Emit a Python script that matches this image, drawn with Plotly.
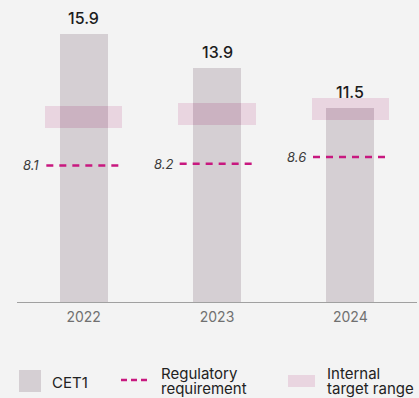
import plotly.graph_objects as go

# Capital ratios by year (%)
years = ["2022", "2023", "2024"]
cet1 = [15.9, 13.9, 11.5]
regulatory = [8.1, 8.2, 8.6]
target_low = [10.3, 10.5, 10.8]
target_high = [11.6, 11.8, 12.1]

BG = "#f3f3f3"
BAR = "#d5cfd3"
TARGET = "#e9d5e0"
OVERLAP = "#cbb2c1"
REG = "#c8187f"
FONT = "Inter"

xs = list(range(len(years)))
BAR_W = 0.36
BAND_W = 0.58
LINE_HALF = 0.28

# plot area in pixels (for placing the legend below it)
W, H = 419, 398
ML, MR, MT, MB = 17, 2, 7, 96
PW, PH = W - ML - MR, H - MT - MB


def px(x):
    return (x - ML) / PW


def py(y):
    return (H - MB - y) / PH


fig = go.Figure()

# internal target range band
fig.add_trace(go.Bar(
    x=xs, y=[h - l for l, h in zip(target_low, target_high)], base=target_low,
    width=BAND_W, marker=dict(color=TARGET, line=dict(width=0)),
    hoverinfo="skip", showlegend=False,
))

# CET1 bars
fig.add_trace(go.Bar(
    x=xs, y=cet1, width=BAR_W,
    marker=dict(color=BAR, line=dict(width=0)),
    showlegend=False,
))

# part of the band that lies over the bar (multiplied tint)
fig.add_trace(go.Bar(
    x=xs,
    y=[max(0, min(h, c) - l) for c, l, h in zip(cet1, target_low, target_high)],
    base=target_low, width=BAR_W,
    marker=dict(color=OVERLAP, line=dict(width=0)),
    hoverinfo="skip", showlegend=False,
))

# regulatory requirement dashed lines
for i, r in zip(xs, regulatory):
    fig.add_trace(go.Scatter(
        x=[i - LINE_HALF, i + LINE_HALF], y=[r, r], mode="lines",
        line=dict(color=REG, width=2.6, dash="7px,6px"),
        showlegend=False,
    ))

annotations = []
for i, c in zip(xs, cet1):
    annotations.append(dict(
        x=i, y=c, xref="x", yref="y", text=f"{c:.1f}", showarrow=False,
        yanchor="bottom", yshift=4,
        font=dict(family=FONT, size=16, color="#1c1c1c", weight=500),
    ))
for i, r in zip(xs, regulatory):
    annotations.append(dict(
        x=i - LINE_HALF, y=r, xref="x", yref="y", text=f"{r:.1f}",
        showarrow=False, xanchor="right", xshift=-5,
        font=dict(family=FONT, size=13, color="#3a3a3a", style="italic"),
    ))

# legend
leg_font = dict(family=FONT, size=15, color="#222222")
legend_texts = [
    (51, 382, "CET1"),
    (160, 373, "Regulatory"),
    (160, 388, "requirement"),
    (326, 373, "Internal"),
    (326, 388, "target range"),
]
for x, y, t in legend_texts:
    annotations.append(dict(
        x=px(x), y=py(y), xref="paper", yref="paper", text=t,
        showarrow=False, xanchor="left", yanchor="middle", font=leg_font,
        borderpad=0,
    ))

shapes = [
    dict(type="rect", xref="paper", yref="paper",
         x0=px(19), x1=px(41), y0=py(392), y1=py(370),
         fillcolor=BAR, line=dict(width=0)),
    dict(type="line", xref="paper", yref="paper",
         x0=px(121), x1=px(147), y0=py(380), y1=py(380),
         line=dict(color=REG, width=2.6, dash="6px,4px")),
    dict(type="rect", xref="paper", yref="paper",
         x0=px(288), x1=px(315), y0=py(387), y1=py(375),
         fillcolor=TARGET, line=dict(width=0)),
]

fig.update_layout(
    width=W, height=H,
    margin=dict(l=ML, r=MR, t=MT, b=MB, pad=0),
    paper_bgcolor=BG, plot_bgcolor=BG,
    barmode="overlay", bargap=0,
    showlegend=False,
    annotations=annotations, shapes=shapes,
    font=dict(family=FONT),
    xaxis=dict(
        range=[-0.5, 2.5], tickvals=xs, ticktext=years,
        showgrid=False, zeroline=False, showline=True,
        linecolor="#a0a0a0", linewidth=1, ticks="",
        ticklabelstandoff=2,
        tickfont=dict(family=FONT, size=14, color="#707070"),
        fixedrange=True,
    ),
    yaxis=dict(
        range=[0, 17.5], visible=False, showgrid=False, zeroline=False,
        fixedrange=True,
    ),
)

fig.write_html("out.html", config={"displayModeBar": False})
